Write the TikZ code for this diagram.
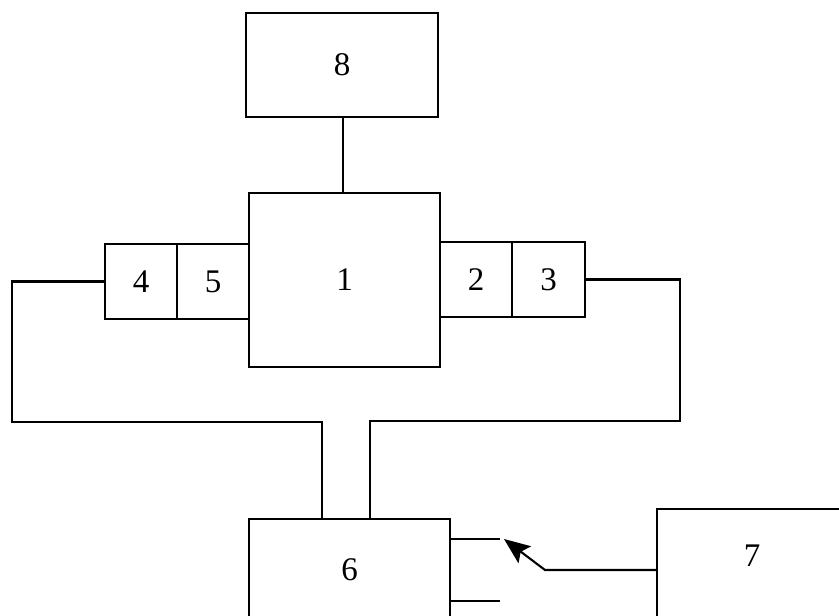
\documentclass[tikz,border=0pt]{standalone}
\usepackage{fontspec}
\setmainfont{Liberation Serif}
\usetikzlibrary{arrows.meta,calc}
\begin{document}
\begin{tikzpicture}[x=1pt,y=-1pt,
  blk/.style={draw,line width=2.1pt,inner sep=0pt,outer sep=0pt,font=\fontsize{33}{36}\selectfont},
  wire/.style={line width=2.1pt}]
\useasboundingbox (0,0) rectangle (839,616);
\fill[white] (0,0) rectangle (839,616);
\clip (0,0) rectangle (839,616);
\node[blk,minimum width=192pt,minimum height=104pt] (b8) at (342,65) {8};
\node[blk,minimum width=191pt,minimum height=174pt] (b1) at (344.5,280) {1};
\node[blk,minimum width=72pt,minimum height=75pt] (b4) at (141,281.5) {4};
\node[blk,minimum width=72pt,minimum height=75pt] (b5) at (213,281.5) {5};
\node[blk,minimum width=72pt,minimum height=75pt] (b2) at (476,279.5) {2};
\node[blk,minimum width=73pt,minimum height=75pt] (b3) at (548.5,279.5) {3};
\node[blk,minimum width=201pt,minimum height=102pt] (b6) at (349.5,570) {6};
\node[blk,minimum width=190pt,minimum height=130pt] (b7) at (752,574) {};
\node[font=\fontsize{33}{36}\selectfont,inner sep=0pt] (t7) at (752,556) {7};
\coordinate (m8) at (343,117);
\draw[wire] (m8) -- (m8 |- b1.north);
% left wire
\coordinate (l1) at (12,422);
\coordinate (l2) at (322,422);
\draw[wire] (b4.west) -| (l1) -- (l2) -- (l2 |- b6.north);
% right wire
\coordinate (r1) at (680,421);
\coordinate (r2) at (370,421);
\draw[wire] (b3.east) -| (r1) -- (r2) -- (r2 |- b6.north);
% switch
\coordinate (c1) at (500,539);
\coordinate (c2) at (500,601);
\draw[wire] (b6.east |- c1) -- (c1);
\draw[wire] (b6.east |- c2) -- (c2);
\coordinate (p) at (545,570);
\coordinate (tip) at (504,539);
\draw[wire,-{Stealth[length=26pt,width=21pt,inset=5pt]}] (b7.west |- p) -- (p) -- (tip);
\end{tikzpicture}
\end{document}
